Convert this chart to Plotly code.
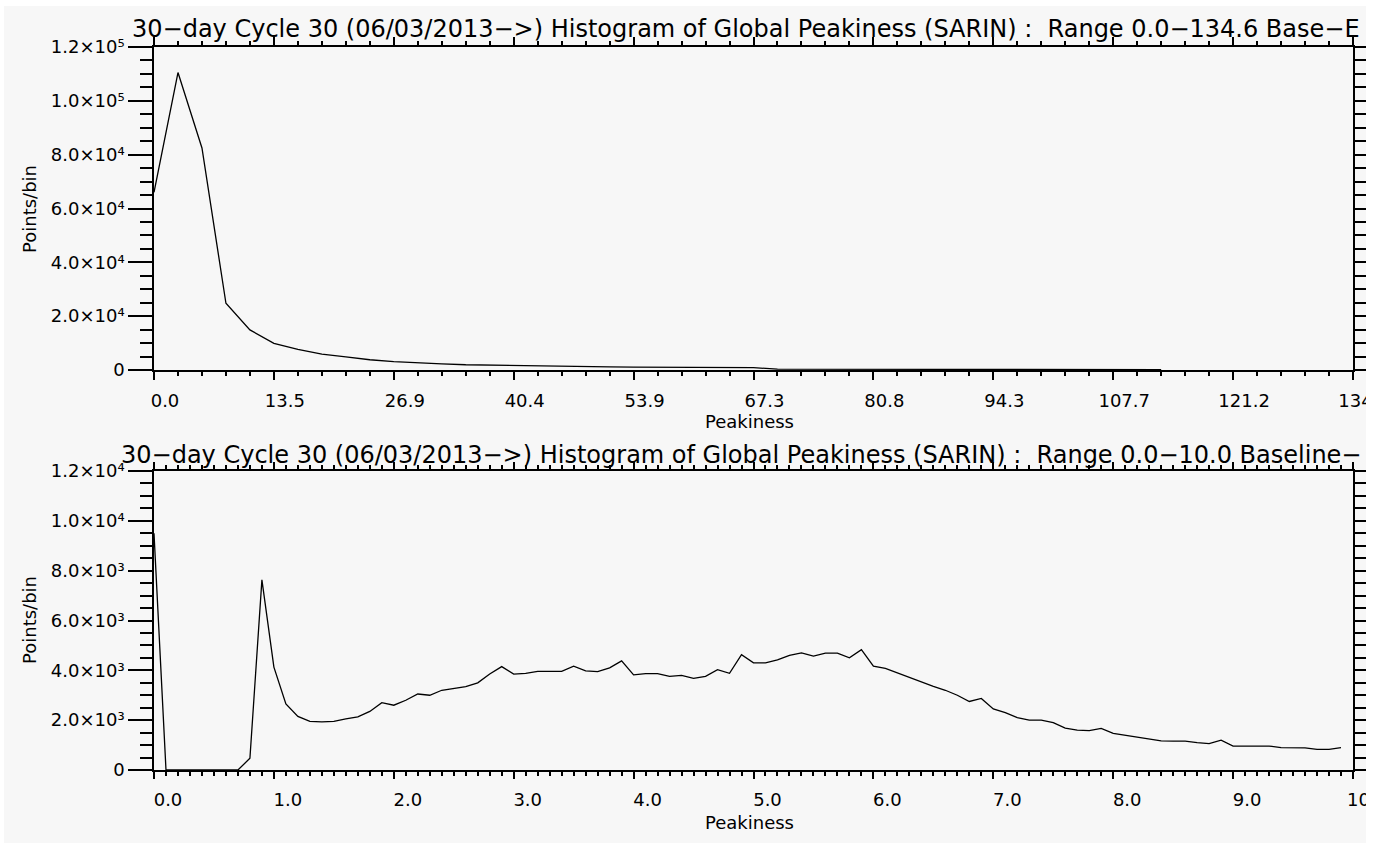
import plotly.graph_objects as go

# ---------------- data ----------------
# Top panel: histogram of Global Peakiness, range 0.0-134.6 (bin width 2.692)
top_bin_width = 2.692
top_counts = [66000, 110500, 82500, 24800, 14900, 9900, 7700, 5900, 4900, 3800,
              3100, 2600, 2300, 1950, 1800, 1650, 1500, 1250, 1200, 1150,
              1100, 1050, 1000, 950, 900, 850, 350, 340, 330, 320,
              310, 300, 290, 280, 270, 260, 250, 240, 230, 220,
              210, 200, 100]
top_x = [round(i * top_bin_width, 3) for i in range(len(top_counts))]

# Bottom panel: histogram of Global Peakiness, range 0.0-10.0 (bin width 0.1)
bottom_counts = [9500, 0, 0, 0, 0, 0, 0, 0, 470, 7630,
                 4130, 2650, 2150, 1950, 1930, 1950, 2050, 2130, 2350, 2700,
                 2600, 2800, 3050, 3000, 3200, 3270, 3350, 3500, 3850, 4150,
                 3850, 3880, 3960, 3960, 3960, 4170, 3980, 3950, 4100, 4380,
                 3820, 3870, 3870, 3760, 3800, 3680, 3760, 4030, 3880, 4630,
                 4300, 4300, 4420, 4600, 4700, 4570, 4690, 4690, 4500, 4830,
                 4170, 4080, 3900, 3700, 3520, 3360, 3200, 3000, 2750, 2870,
                 2450, 2300, 2100, 2000, 2000, 1900, 1680, 1600, 1580, 1670,
                 1470, 1400, 1330, 1250, 1170, 1160, 1160, 1100, 1060, 1200,
                 960, 960, 960, 960, 900, 900, 890, 830, 830, 900]
bottom_x = [round(i * 0.1, 1) for i in range(len(bottom_counts))]

top_xtick_vals = [0.0, 13.46, 26.92, 40.38, 53.84, 67.3, 80.76, 94.22, 107.68, 121.14, 134.6]
top_xtick_text = ["0.0", "13.5", "26.9", "40.4", "53.9", "67.3", "80.8", "94.3", "107.7", "121.2", "134.6"]
top_ytick_vals = [0, 20000, 40000, 60000, 80000, 100000, 120000]
top_ytick_text = ["0", "2.0×10⁴", "4.0×10⁴", "6.0×10⁴", "8.0×10⁴", "1.0×10⁵", "1.2×10⁵"]

bottom_xtick_vals = [0, 1, 2, 3, 4, 5, 6, 7, 8, 9, 10]
bottom_xtick_text = ["0.0", "1.0", "2.0", "3.0", "4.0", "5.0", "6.0", "7.0", "8.0", "9.0", "10.0"]
bottom_ytick_vals = [0, 2000, 4000, 6000, 8000, 10000, 12000]
bottom_ytick_text = ["0", "2.0×10³", "4.0×10³", "6.0×10³", "8.0×10³", "1.0×10⁴", "1.2×10⁴"]

top_title = "30−day Cycle 30 (06/03/2013−>) Histogram of Global Peakiness (SARIN) :  Range 0.0−134.6 Base−E"
bottom_title = "30−day Cycle 30 (06/03/2013−>) Histogram of Global Peakiness (SARIN) :  Range 0.0−10.0 Baseline−"
x_title = "Peakiness"
y_title = "Points/bin"

# ---------------- layout helpers ----------------
W, H = 1366, 845
PL, PR, PT, PB = 154, 1353, 47, 770   # plot area in pixels
PW, PH = PR - PL, PB - PT


def fx(p):
    return (p - PL) / PW


def fy(p):
    return (PB - p) / PH


FONT = "DejaVu Sans"
BG = "#f7f7f7"

fig = go.Figure()
fig.add_trace(go.Scatter(x=top_x, y=top_counts, mode="lines",
                         line=dict(color="black", width=1.3),
                         xaxis="x", yaxis="y", hoverinfo="skip"))
fig.add_trace(go.Scatter(x=bottom_x, y=bottom_counts, mode="lines",
                         line=dict(color="black", width=1.3),
                         xaxis="x2", yaxis="y2", hoverinfo="skip"))

common = dict(showline=True, linecolor="black", linewidth=1.5, mirror="ticks",
              ticks="outside", tickcolor="black", tickwidth=1.5,
              showgrid=False, zeroline=False, tickmode="array",
              automargin=False, ticklabeloverflow="allow",
              tickfont=dict(family=FONT, size=18, color="black"))

fig.update_layout(
    width=W, height=H, autosize=False,
    margin=dict(l=PL, r=W - PR, t=PT, b=H - PB, pad=0, autoexpand=False),
    paper_bgcolor="white", plot_bgcolor=BG, showlegend=False,
    xaxis=dict(common, domain=[0, 1], anchor="y", range=[0, 134.6],
               tickvals=top_xtick_vals, ticktext=top_xtick_text, ticklen=8,
               ticklabelshift=11, ticklabelstandoff=6,
               minor=dict(tickmode="linear", tick0=0, dtick=top_bin_width, ticklen=4,
                          ticks="outside", tickcolor="black", tickwidth=1.5)),
    yaxis=dict(common, domain=[fy(370), 1], anchor="x", range=[0, 120000],
               tickvals=top_ytick_vals, ticktext=top_ytick_text, ticklen=24,
               minor=dict(tickmode="linear", tick0=0, dtick=5000, ticklen=12,
                          ticks="outside", tickcolor="black", tickwidth=1.5)),
    xaxis2=dict(common, domain=[0, 1], anchor="y2", range=[0, 10],
                tickvals=bottom_xtick_vals, ticktext=bottom_xtick_text, ticklen=7,
                ticklabelshift=14, ticklabelstandoff=6,
                minor=dict(tickmode="linear", tick0=0, dtick=0.1, ticklen=4,
                           ticks="outside", tickcolor="black", tickwidth=1.5)),
    yaxis2=dict(common, domain=[0, fy(471)], anchor="x2", range=[0, 12000],
                tickvals=bottom_ytick_vals, ticktext=bottom_ytick_text, ticklen=24,
                minor=dict(tickmode="linear", tick0=0, dtick=500, ticklen=12,
                           ticks="outside", tickcolor="black", tickwidth=1.5)),
    shapes=[dict(type="rect", xref="paper", yref="paper", layer="below",
                 x0=fx(4), x1=fx(1400), y0=fy(843), y1=fy(6),
                 fillcolor=BG, line=dict(width=0))],
)

ann_font_title = dict(family=FONT, size=24, color="black")
ann_font_axis = dict(family=FONT, size=18, color="black")
annotations = [
    dict(text=top_title, x=fx(130), y=fy(28.5), xanchor="left", yanchor="middle",
         font=ann_font_title),
    dict(text=bottom_title, x=fx(119), y=fy(454.5), xanchor="left", yanchor="middle",
         font=ann_font_title),
    dict(text=x_title, x=fx(749), y=fy(422), xanchor="center", yanchor="middle",
         font=ann_font_axis),
    dict(text=x_title, x=fx(749), y=fy(822), xanchor="center", yanchor="middle",
         font=ann_font_axis),
    dict(text=y_title, x=fx(29.5), y=fy(209.5), xanchor="center", yanchor="middle",
         textangle=-90, font=ann_font_axis),
    dict(text=y_title, x=fx(29.5), y=fy(620.5), xanchor="center", yanchor="middle",
         textangle=-90, font=ann_font_axis),
]
for a in annotations:
    a.update(xref="paper", yref="paper", showarrow=False)
fig.update_layout(annotations=annotations)

fig.write_html("out.html", config={"displayModeBar": False},
               post_script="document.body.style.margin='0px';")
